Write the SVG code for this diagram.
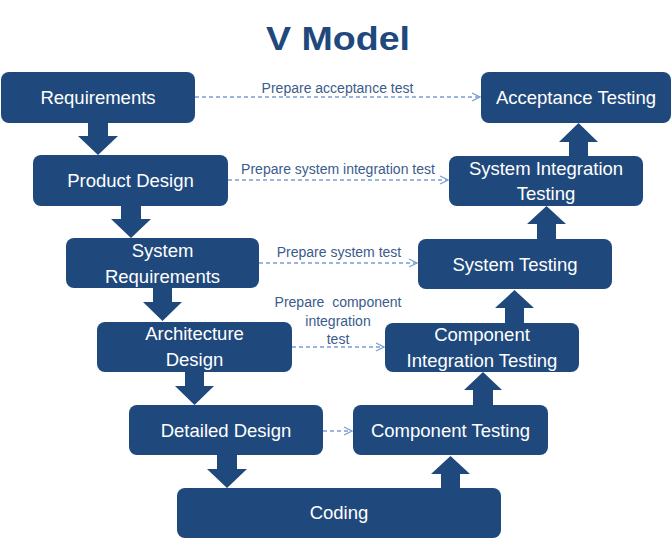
<svg xmlns="http://www.w3.org/2000/svg" width="672" height="548" viewBox="0 0 672 548">
<defs>
<style>
.box{fill:#1f497d}
.bt{fill:#fff;font-family:"Liberation Sans",Arial,sans-serif;font-size:18.5px;text-anchor:middle}
.lbl{fill:#3b5b8c;font-family:"Liberation Sans",Arial,sans-serif;font-size:14px;text-anchor:middle}
.arr{fill:#1f497d}
.dash{stroke:#7b9fd3;stroke-width:1.3;stroke-dasharray:4 3;fill:none;marker-end:url(#chev)}
</style>
<marker id="chev" viewBox="0 0 10 10" refX="9" refY="5" markerWidth="10" markerHeight="10" markerUnits="userSpaceOnUse" orient="auto">
<path d="M1,1 L9,5 L1,9" fill="none" stroke="#7b9fd3" stroke-width="1.3"/>
</marker>
</defs>
<rect width="672" height="548" fill="#fff"/>
<text x="338" y="50" fill="#1f497d" font-family="'Liberation Sans',Arial,sans-serif" font-weight="bold" font-size="34" text-anchor="middle" textLength="144" lengthAdjust="spacingAndGlyphs">V Model</text>
<g id="connectors">
<g id="flow">
<polygon class="arr" points="88,122 108,122 108,136 118,136 98,155 78,136 88,136"/>
<polygon class="arr" points="121,205 141,205 141,219 151,219 131,238 111,219 121,219"/>
<polygon class="arr" points="153,287 172,287 172,302 182,302 162.5,321 143,302 153,302"/>
<polygon class="arr" points="185,371 204,371 204,386 214,386 194.5,405 175,386 185,386"/>
<polygon class="arr" points="217,454 237,454 237,469 247,469 227,488 207,469 217,469"/>
<polygon class="arr" points="441,489 460,489 460,474 470,474 450.5,456 431,474 441,474"/>
<polygon class="arr" points="473,406 493,406 493,390 502,390 483,372 464,390 473,390"/>
<polygon class="arr" points="505,324 524,324 524,308 534,308 514.5,290 495,308 505,308"/>
<polygon class="arr" points="537,240 556,240 556,224 566,224 546.5,206 527,224 537,224"/>
<polygon class="arr" points="569,157 588,157 588,142 598,142 578.5,123 559,142 569,142"/>
</g>
<g id="prep">
<line class="dash" x1="195" y1="97" x2="480" y2="97"/>
<line class="dash" x1="228" y1="180" x2="448" y2="180"/>
<line class="dash" x1="259" y1="263" x2="417" y2="263"/>
<line class="dash" x1="292" y1="347" x2="384" y2="347"/>
<line class="dash" x1="323" y1="431" x2="352" y2="431"/>
<text class="lbl" x="337.5" y="93">Prepare acceptance test</text>
<text class="lbl" x="338" y="174">Prepare system integration test</text>
<text class="lbl" x="339" y="257">Prepare system test</text>
<text class="lbl" x="338" y="307" xml:space="preserve">Prepare  component</text>
<text class="lbl" x="338" y="326">integration</text>
<text class="lbl" x="338" y="344">test</text>
</g>
</g>
<g id="requirements"><rect class="box" x="1" y="72" width="194" height="51" rx="8"/><text class="bt" x="98" y="104">Requirements</text></g>
<g id="product-design"><rect class="box" x="33" y="155" width="195" height="51" rx="8"/><text class="bt" x="130.5" y="187">Product Design</text></g>
<g id="system-requirements"><rect class="box" x="66" y="238" width="193" height="50" rx="8"/><text class="bt" x="162.5" y="257">System</text><text class="bt" x="162.5" y="283">Requirements</text></g>
<g id="architecture-design"><rect class="box" x="97" y="322" width="195" height="50" rx="8"/><text class="bt" x="194.5" y="340">Architecture</text><text class="bt" x="194.5" y="366">Design</text></g>
<g id="detailed-design"><rect class="box" x="129" y="405" width="194" height="50" rx="8"/><text class="bt" x="226" y="437">Detailed Design</text></g>
<g id="coding"><rect class="box" x="177" y="488" width="324" height="50" rx="8"/><text class="bt" x="339" y="519">Coding</text></g>
<g id="component-testing"><rect class="box" x="353" y="405" width="195" height="50" rx="8"/><text class="bt" x="450.5" y="437">Component Testing</text></g>
<g id="component-integration-testing"><rect class="box" x="385" y="323" width="194" height="49" rx="8"/><text class="bt" x="482" y="341">Component</text><text class="bt" x="482" y="367">Integration Testing</text></g>
<g id="system-testing"><rect class="box" x="418" y="239" width="194" height="50" rx="8"/><text class="bt" x="515" y="271">System Testing</text></g>
<g id="system-integration-testing"><rect class="box" x="449" y="156" width="194" height="50" rx="8"/><text class="bt" x="546" y="175">System Integration</text><text class="bt" x="546" y="200">Testing</text></g>
<g id="acceptance-testing"><rect class="box" x="481" y="72" width="190" height="51" rx="8"/><text class="bt" x="576" y="104">Acceptance Testing</text></g>
</svg>
